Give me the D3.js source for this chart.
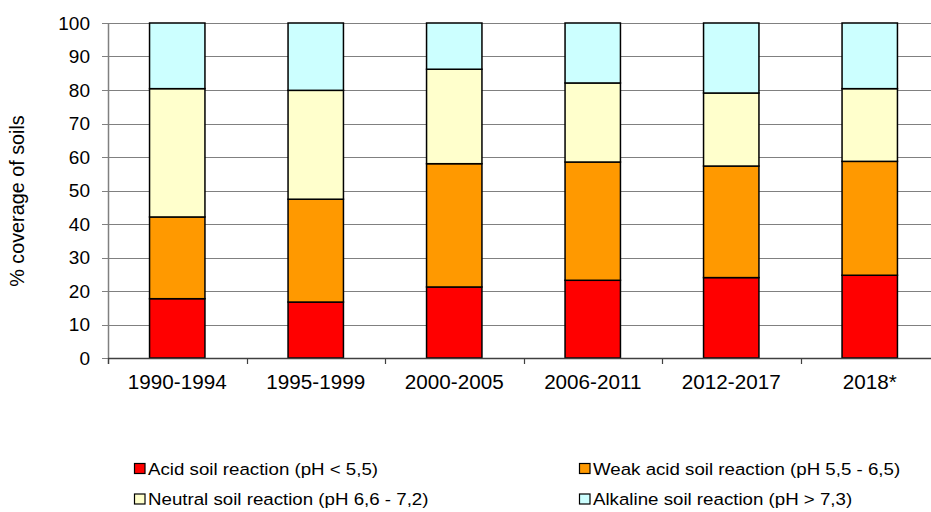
<!DOCTYPE html>
<html><head><meta charset="utf-8">
<script src="https://cdn.jsdelivr.net/npm/d3@7"></script>
<style>body{margin:0;background:#fff}svg{display:block;font-family:Arial,"Liberation Sans",sans-serif}</style>
</head><body><svg id="c" width="931" height="512"></svg>
<script>
const categories = ["1990-1994","1995-1999","2000-2005","2006-2011","2012-2017","2018*"];
const acid = [17.7,16.7,21.2,23.2,24.0,24.7];
const weakAcid = [24.4,30.7,36.8,35.3,33.3,34.0];
const neutral = [38.3,32.5,28.2,23.6,21.8,21.7];
const alkaline = [19.6,20.1,13.8,17.9,20.9,19.6];
const seriesNames = ["Acid soil reaction (pH < 5,5)","Weak acid soil reaction (pH 5,5 - 6,5)","Neutral soil reaction (pH 6,6 - 7,2)","Alkaline soil reaction (pH > 7,3)"];
const seriesColors = ["#FF0000","#FF9900","#FFFFCC","#CCFFFF"];
const yTicks = [0,10,20,30,40,50,60,70,80,90,100];

(function(){
const svg = d3.select("#c");
const mLeft = 108, mRight = 939, mTop = 23, mBottom = 358;
const keys = ["acid","weakAcid","neutral","alkaline"];
const rows = categories.map((c,i)=>({cat:c, acid:acid[i], weakAcid:weakAcid[i], neutral:neutral[i], alkaline:alkaline[i]}));
const stacked = d3.stack().keys(keys)(rows);

const x = d3.scaleBand().domain(categories).range([mLeft,mRight]).paddingInner(0.6).paddingOuter(0.3);
const y = d3.scaleLinear().domain([0,100]).range([mBottom,mTop]);

// gridlines
svg.append("g").selectAll("line").data(yTicks).join("line")
  .attr("x1",mLeft-6).attr("x2",931)
  .attr("y1",d=>Math.round(y(d))+0.5).attr("y2",d=>Math.round(y(d))+0.5)
  .attr("stroke","#808080").attr("stroke-width",1.2);

// y tick labels
svg.append("g").selectAll("text").data(yTicks).join("text")
  .attr("x",90).attr("y",d=>y(d)).attr("dy","0.35em")
  .attr("text-anchor","end").attr("font-size",19).attr("fill","#000").text(d=>d);

// y axis line
svg.append("line").attr("x1",mLeft+0.5).attr("x2",mLeft+0.5).attr("y1",mTop).attr("y2",mBottom+6)
  .attr("stroke","#808080").attr("stroke-width",1.5);

// x tick marks at band boundaries
const step = x.step();
const bounds = d3.range(categories.length+1).map(i=>mLeft + i*step);
svg.append("g").selectAll("line").data(bounds).join("line")
  .attr("x1",d=>Math.round(d)+0.5).attr("x2",d=>Math.round(d)+0.5)
  .attr("y1",mBottom).attr("y2",mBottom+6).attr("stroke","#404040").attr("stroke-width",1.2);

// bars
const g = svg.append("g");
stacked.forEach((s,si)=>{
  g.append("g").selectAll("rect").data(s).join("rect")
    .attr("x",d=>x(d.data.cat)).attr("width",x.bandwidth())
    .attr("y",d=>y(d[1])).attr("height",d=>y(d[0])-y(d[1]))
    .attr("fill",seriesColors[si]).attr("stroke","#000").attr("stroke-width",1.5);
});

// x axis line
svg.append("line").attr("x1",mLeft).attr("x2",931).attr("y1",mBottom+0.5).attr("y2",mBottom+0.5)
  .attr("stroke","#404040").attr("stroke-width",1.5);

// x labels (slightly wide as in the reference)
svg.append("g").selectAll("text").data(categories).join("text")
  .attr("transform",d=>`translate(${x(d)+x.bandwidth()/2},389) scale(1.06,1)`)
  .attr("text-anchor","middle").attr("font-size",19.5).attr("fill","#000").text(d=>d);

// y title
svg.append("text").attr("transform","translate(24,201) rotate(-90)")
  .attr("text-anchor","middle").attr("font-size",19.8).attr("fill","#000").text("% coverage of soils");

// legend
const legPos = [[134,474.5],[579,474.5],[134,505],[579,505]];
const lg = svg.append("g").selectAll("g").data(seriesNames).join("g")
  .attr("transform",(d,i)=>`translate(${legPos[i][0]},${legPos[i][1]})`);
lg.append("rect").attr("x",0.5).attr("y",-11).attr("width",10.5).attr("height",10)
  .attr("fill",(d,i)=>seriesColors[i]).attr("stroke","#000").attr("stroke-width",1.2);
lg.append("text").attr("transform","translate(14,0) scale(1.1,1)")
  .attr("font-size",17).attr("fill","#000").text(d=>d);
})();
</script></body></html>
